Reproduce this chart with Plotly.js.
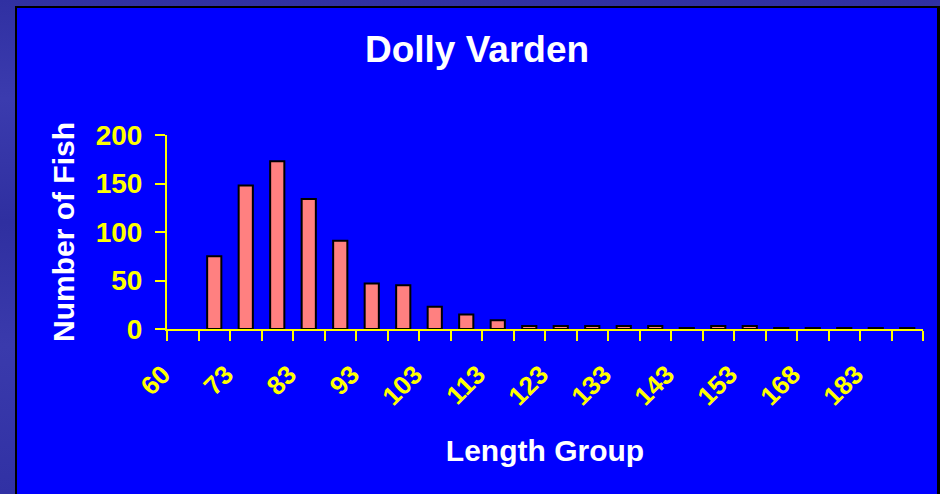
<!DOCTYPE html>
<html>
<head>
<meta charset="utf-8">
<script src="https://cdn.plot.ly/plotly-3.0.1.min.js"></script>
<style>
  html, body { margin: 0; padding: 0; width: 940px; height: 494px; overflow: hidden;
    background: linear-gradient(180deg, #3030a2 0%, #3b3bae 20%, #2f2fa0 45%, #3a3aac 70%, #3131a4 100%); }
  #chart { position: absolute; left: 15px; top: 6px; width: 920px; height: 490px;
    border-top: 2px solid #000; border-left: 2px solid #000; border-right: 3px solid #000;
    background: #0000ff; }
</style>
</head>
<body>
<div id="chart"></div>
<script>
// Length groups (category labels) and counts
const lengthGroups = ["60","68","73","78","83","88","93","98","103","108","113","118","123","128","133","138","143","148","153","158","168","173","183","188"];
const fishCounts   = [null, 75, 148, 173, 134, 91, 47, 45, 23, 15, 9, 3, 3, 3, 3, 3, 1, 3, 3, 1, 1, 1, 1, 1];
// Shown tick labels (every other group)
const tickLabels   = ["60","","73","","83","","93","","103","","113","","123","","133","","143","","153","","168","","183",""];
const yTicks = [0, 50, 100, 150, 200];

const trace = {
  type: 'bar',
  x: lengthGroups,
  y: fishCounts,
  marker: { color: '#ff8080', line: { color: '#000000', width: 2 } },
  hoverinfo: 'x+y'
};

const yellow = '#ffff00';
const layout = {
  width: 920, height: 488,
  paper_bgcolor: '#0000ff', plot_bgcolor: '#0000ff',
  margin: { l: 150, r: 14, t: 127, b: 167 },
  bargap: 0.55,
  showlegend: false,
  font: { family: 'Liberation Sans, Arial, sans-serif' },
  title: {
    text: 'Dolly Varden',
    font: { family: 'Liberation Sans, Arial, sans-serif', size: 37, weight: 700, color: '#ffffff' },
    xref: 'container', x: 0.5, xanchor: 'center',
    yref: 'container', y: 1 - 41/488, yanchor: 'middle'
  },
  xaxis: {
    type: 'category',
    categoryorder: 'array', categoryarray: lengthGroups,
    range: [-0.5, lengthGroups.length - 0.5],
    tickmode: 'array', tickvals: lengthGroups, ticktext: tickLabels,
    tickson: 'boundaries',
    ticks: 'outside', ticklen: 10, tickwidth: 2, tickcolor: yellow,
    tickangle: -45,
    tickfont: { family: 'Liberation Sans, Arial, sans-serif', size: 26, weight: 700, color: yellow },
    ticklabelstandoff: 18,
    ticklabelshift: -20,
    showline: true, linecolor: yellow, linewidth: 2,
    showgrid: false, zeroline: false,
    title: {
      text: 'Length Group',
      font: { family: 'Liberation Sans, Arial, sans-serif', size: 30, weight: 700, color: '#ffffff' },
      standoff: 30
    },
    automargin: false
  },
  yaxis: {
    range: [0, 200],
    tickmode: 'array', tickvals: yTicks,
    ticks: 'outside', ticklen: 10, tickwidth: 2, tickcolor: yellow,
    tickfont: { family: 'Liberation Sans, Arial, sans-serif', size: 28, weight: 700, color: yellow },
    ticklabelstandoff: 7,
    showline: true, linecolor: yellow, linewidth: 2,
    showgrid: false, zeroline: false,
    title: {
      text: 'Number of Fish',
      font: { family: 'Liberation Sans, Arial, sans-serif', size: 30, weight: 700, color: '#ffffff' },
      standoff: 12
    },
    automargin: false
  }
};

Plotly.newPlot('chart', [trace], layout, { displayModeBar: false, staticPlot: true });
</script>
</body>
</html>
